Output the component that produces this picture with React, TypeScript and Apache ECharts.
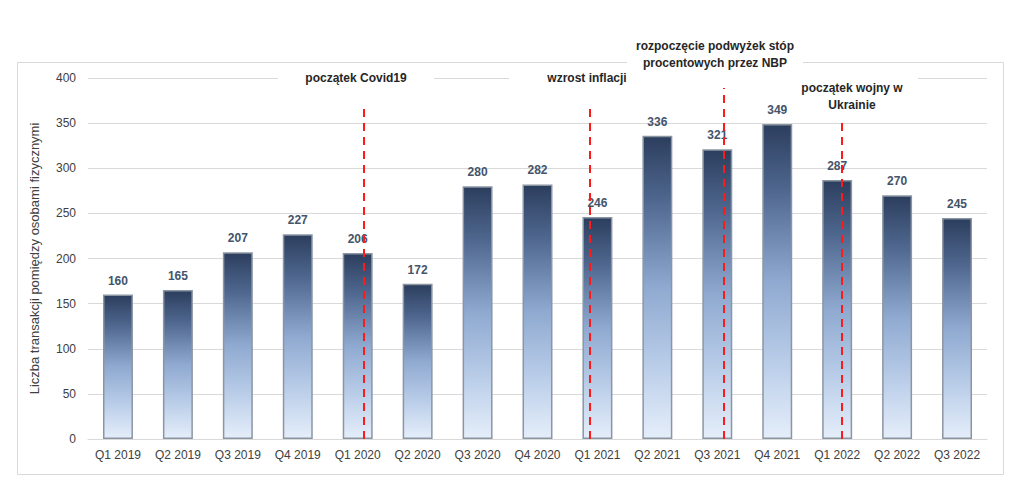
import React, { useEffect, useRef } from "react";
import * as echarts from "echarts";

const categories = [
  "Q1 2019", "Q2 2019", "Q3 2019", "Q4 2019", "Q1 2020", "Q2 2020", "Q3 2020", "Q4 2020",
  "Q1 2021", "Q2 2021", "Q3 2021", "Q4 2021", "Q1 2022", "Q2 2022", "Q3 2022",
];
const values = [160, 165, 207, 227, 206, 172, 280, 282, 246, 336, 321, 349, 287, 270, 245];
const yTicks = { min: 0, max: 400, interval: 50 };
const axisName = "Liczba transakcji pomiędzy osobami fizycznymi";

// annotation: position on the category scale (index units), top of dashed line (value units)
const annotationNames = [
  "początek Covid19",
  "wzrost inflacji",
  "rozpoczęcie podwyżek stóp\nprocentowych przez NBP",
  "początek wojny w\nUkrainie",
];
const annotationPositions = [4.1, 7.88, 10.11, 12.08];
const annotationTops = [370, 372, 389, 356];

const FONT = "'Liberation Sans', Arial, sans-serif";

export default function App() {
  const ref = useRef<HTMLDivElement>(null);
  useEffect(() => {
    if (!ref.current) return;
    const chart = echarts.init(ref.current, undefined, { renderer: "svg" });

    const markData = annotationPositions.map((p, i) => [
      { coord: [p, 0] },
      { coord: [p, annotationTops[i]] },
    ]);

    // pixel layout of annotation boxes/texts
    const boxes = [
      { x: 278, y: 70, w: 156, h: 18, cx: 356, ty: 78 },
      { x: 509, y: 70, w: 156, h: 18, cx: 587, ty: 78 },
      { x: 627, y: 36, w: 176, h: 48, cx: 715, ty: 54.5 },
      { x: 786, y: 70, w: 132, h: 44, cx: 852, ty: 96.5 },
    ];

    const graphic: any[] = [
      {
        type: "rect",
        shape: { x: 17.5, y: 62.5, width: 986, height: 412 },
        style: { fill: "none", stroke: "#d9d9d9", lineWidth: 1 },
        z: 0,
        silent: true,
      },
    ];
    boxes.forEach((b, i) => {
      graphic.push({
        type: "rect",
        shape: { x: b.x, y: b.y, width: b.w, height: b.h },
        style: { fill: "#ffffff" },
        z: 1,
        silent: true,
      });
      graphic.push({
        type: "text",
        x: b.cx,
        y: b.ty,
        z: 51,
        silent: true,
        style: {
          text: annotationNames[i],
          fill: "#262626",
          font: `bold 12px ${FONT}`,
          align: "center",
          verticalAlign: "middle",
          lineHeight: 17,
        },
      });
    });

    chart.setOption({
      animation: false,
      backgroundColor: "#ffffff",
      textStyle: { fontFamily: FONT },
      grid: { left: 88, right: 37, top: 78, bottom: 59 },
      xAxis: [
        {
          type: "category",
          data: categories,
          axisLine: { show: true, lineStyle: { color: "#d9d9d9", width: 1 } },
          axisTick: { show: false },
          axisLabel: { color: "#404040", fontSize: 12, margin: 10, fontFamily: FONT, interval: 0 },
        },
        {
          type: "value",
          min: -0.5,
          max: 14.5,
          show: false,
          position: "bottom",
        },
      ],
      yAxis: {
        type: "value",
        min: yTicks.min,
        max: yTicks.max,
        interval: yTicks.interval,
        name: axisName,
        nameLocation: "middle",
        nameGap: 47,
        nameTextStyle: { color: "#404040", fontSize: 13, fontFamily: FONT },
        axisLine: { show: false },
        axisTick: { show: false },
        axisLabel: { color: "#404040", fontSize: 12, margin: 12, fontFamily: FONT },
        splitLine: { lineStyle: { color: "#d9d9d9", width: 1 } },
      },
      graphic,
      series: [
        {
          type: "bar",
          data: values,
          barWidth: "50%",
          itemStyle: {
            color: new echarts.graphic.LinearGradient(0, 0, 0, 1, [
              { offset: 0, color: "#2c3e5e" },
              { offset: 0.2, color: "#4d658c" },
              { offset: 0.5, color: "#8fa9d0" },
              { offset: 0.75, color: "#b8cce8" },
              { offset: 1, color: "#e5eefa" },
            ]),
            borderColor: "#8c96a3",
            borderWidth: 1.5,
          },
          label: {
            show: true,
            position: "top",
            distance: 8,
            color: "#44546a",
            fontWeight: "bold",
            fontSize: 12,
            fontFamily: FONT,
          },
          z: 2,
        },
        {
          type: "scatter",
          xAxisIndex: 1,
          data: [],
          symbolSize: 0,
          markLine: {
            silent: true,
            symbol: ["none", "none"],
            label: { show: false },
            lineStyle: { color: "#ff1a1a", type: [8, 6], width: 2 },
            data: markData,
            z: 10,
          },
          z: 10,
        },
      ],
    });
    return () => chart.dispose();
  }, []);

  return (
    <div
      ref={ref}
      style={{ position: "fixed", left: 0, top: 0, width: 1024, height: 498 }}
    />
  );
}
